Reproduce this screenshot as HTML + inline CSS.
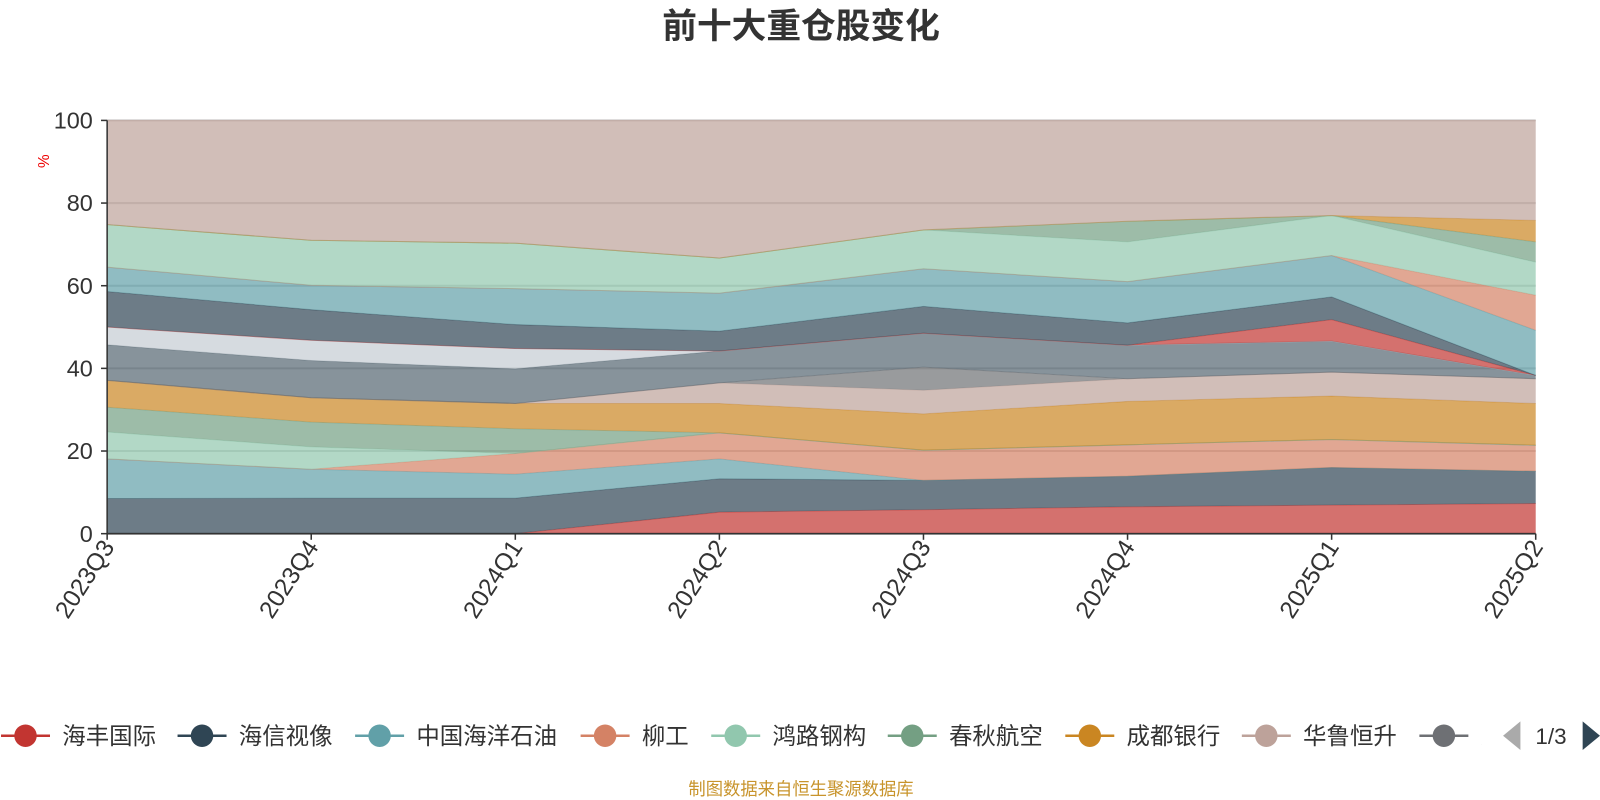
<!DOCTYPE html>
<html><head><meta charset="utf-8"><style>
html,body{margin:0;padding:0;background:#fff;}
svg{display:block;font-family:"Liberation Sans","Noto Sans CJK SC",sans-serif;}
</style></head><body>
<svg id="chart" width="1600" height="800" viewBox="0 0 1568 784" preserveAspectRatio="none">
<text x="785" y="37" text-anchor="middle" font-size="34" font-weight="bold" fill="#333">前十大重仓股变化</text>
<text x="0" y="0" transform="translate(48,158) rotate(-90)" text-anchor="middle" font-size="15" fill="#e00">%</text>
<g id="grid"></g><g id="areas"></g><g id="axes"></g><g id="legend"></g>
<text x="785" y="779" text-anchor="middle" font-size="17" fill="#c8942c">制图数据来自恒生聚源数据库</text>
</svg>
<script>
const categories = ["2023Q3","2023Q4","2024Q1","2024Q2","2024Q3","2024Q4","2025Q1","2025Q2"];
const yTicks = [0,20,40,60,80,100];
const seriesNames = ["海丰国际","海信视像","中国海洋石油","柳工","鸿路钢构","春秋航空","成都银行","华鲁恒升","其他股票A","其他股票B","其他股票C","其他股票D","其他股票E","其他股票F","其他股票G","其他股票H","其他股票I","其他股票J","其他"];
const s1 = [0,0,0,5.2,5.8,6.5,6.9,7.3];
const s2 = [8.5,8.6,8.6,8.1,7.1,7.4,9.1,7.8];
const s3 = [9.6,7.0,5.8,4.8,0,0,0,0];
const s4 = [0,0,5.0,6.3,7.3,7.6,6.8,6.3];
const s5 = [6.5,5.4,0,0,0,0,0,0];
const s6 = [6.0,6.0,6.0,0,0,0,0,0];
const s7 = [6.5,5.9,6.1,7.1,8.8,10.5,10.5,10.1];
const s8 = [0,0,0,5.0,5.7,5.5,5.8,6.0];
const s9 = [0,0,0,0,5.6,0,0,0];
const s10 = [8.6,9.0,8.4,7.7,8.2,8.1,7.5,0.8];
const s11 = [4.3,4.9,4.9,0,0,0,0,0];
const s12 = [0,0,0,0,0,0,5.2,0];
const s13 = [8.6,7.4,5.8,4.8,6.5,5.4,5.5,0];
const s14 = [5.9,5.9,8.7,9.2,9.1,10.0,10.0,10.9];
const s15 = [0,0,0,0,0,0,0,8.5];
const s16 = [10.3,10.9,11.0,8.5,9.4,9.6,9.7,8.0];
const s17 = [0,0,0,0,0,5.0,0,4.9];
const s18 = [0,0,0,0,0,0,0,5.2];
const s19 = [25.2,29.0,29.7,33.3,26.5,24.4,23.0,24.2];
const seriesValues = [s1,s2,s3,s4,s5,s6,s7,s8,s9,s10,s11,s12,s13,s14,s15,s16,s17,s18,s19];
const palette = ['#c23531','#2f4554','#61a0a8','#d48265','#91c7ae','#749f83','#ca8622','#bda29a','#6e7074','#546570','#c4ccd3'];
const NS = "http://www.w3.org/2000/svg";
const X0 = 105, X1 = 1505, Y0 = 523, Y1 = 118;
function xAt(i){ return X0 + i*(X1-X0)/(categories.length-1); }
function yAt(v){ return Y0 - v*(Y0-Y1)/100; }
function mk(tag, attrs, parent){ const e=document.createElementNS(NS,tag); for(const k in attrs) e.setAttribute(k,attrs[k]); parent.appendChild(e); return e; }
const grid=document.getElementById('grid'), areas=document.getElementById('areas'), axes=document.getElementById('axes'), legend=document.getElementById('legend');
yTicks.forEach(t=>{
  const l=mk('line',{x1:X0,x2:X1,y1:yAt(t),y2:yAt(t),stroke:'#ccc','stroke-width':2},grid);
  
  
  const tk=mk('line',{x1:X0-6,x2:X0,y1:yAt(t),y2:yAt(t),stroke:'#333','stroke-width':1.5},axes);
  
  
  const tx=mk('text',{x:X0-14,y:yAt(t)+8,'text-anchor':'end','font-size':23,fill:'#333'},axes);
  tx.textContent=t;
  
  
});
let cum = categories.map(()=>0);
seriesValues.forEach((vals,si)=>{
  const lower=cum.slice();
  const upper=cum.map((c,i)=>c+vals[i]);
  let pts=[];
  upper.forEach((v,i)=>pts.push(xAt(i)+','+yAt(v)));
  for(let i=lower.length-1;i>=0;i--) pts.push(xAt(i)+','+yAt(lower[i]));
  const col=palette[si%palette.length];
  const p=mk('polygon',{points:pts.join(' '),fill:col,'fill-opacity':0.7,stroke:'none'},areas);
  
  
  const ln=mk('polyline',{points:upper.map((v,i)=>xAt(i)+','+yAt(v)).join(' '),fill:'none',stroke:col,'stroke-opacity':0.5,'stroke-width':1},areas);
  
  
  cum=upper;
});
const ya=mk('line',{x1:X0,x2:X0,y1:Y1,y2:Y0,stroke:'#333','stroke-width':1.5},axes);


const xa=mk('line',{x1:X0,x2:X1,y1:Y0,y2:Y0,stroke:'#333','stroke-width':1.5},axes);


categories.forEach((c,i)=>{
  const tk=mk('line',{x1:xAt(i),x2:xAt(i),y1:Y0,y2:Y0+6,stroke:'#333','stroke-width':1.5},axes);
  
  
  const tx=mk('text',{x:0,y:0,transform:'translate('+(xAt(i)+8)+','+(Y0+13)+') rotate(-57)','text-anchor':'end','font-size':24,fill:'#333'},axes);
  tx.textContent=c;
  
  
});
const legendX=[0,173,347,568,696,869,1043,1216,1390];
const LY=721;
const clip=mk('clipPath',{id:'legclip'},legend);
mk('rect',{x:0,y:690,width:1452,height:60},clip);
const lg=mk('g',{'clip-path':'url(#legclip)'},legend);
legendX.forEach((lx,i)=>{
  const g=mk('g',{},lg);
  
  
  const col=palette[i%palette.length];
  mk('line',{x1:lx+1,x2:lx+49,y1:LY,y2:LY,stroke:col,'stroke-width':2.5},g);
  mk('circle',{cx:lx+25,cy:LY,r:11,fill:col},g);
  const t=mk('text',{x:lx+61,y:LY+8,'font-size':23,fill:'#333'},g);
  t.textContent=i<8?seriesNames[i]:'大秦铁路';
});
const pl=mk('polygon',{points:'1490,707 1490,735 1473,721',fill:'#aaa'},legend);


const pt=mk('text',{x:1520,y:729,'text-anchor':'middle','font-size':22,fill:'#333'},legend);
pt.textContent='1/3';


const pn=mk('polygon',{points:'1551,707 1551,735 1568,721',fill:'#2f4554'},legend);


</script>
</body></html>
